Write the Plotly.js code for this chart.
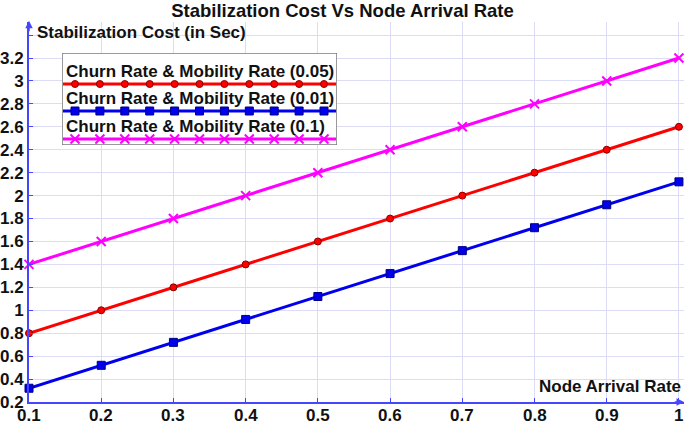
<!DOCTYPE html>
<html>
<head>
<meta charset="utf-8">
<script src="https://cdn.plot.ly/plotly-3.0.1.min.js"></script>
<style>
  html, body { margin: 0; padding: 0; background: #fff; }
  #chart { width: 685px; height: 426px; }
</style>
</head>
<body>
<div id="chart"></div>
<script>
// node arrival rate on x
const arrivalRate = [0.1, 0.2, 0.3, 0.4, 0.5, 0.6, 0.7, 0.8, 0.9, 1.0];

// stabilization cost per series
const cost005 = [0.8, 1.0, 1.2, 1.4, 1.6, 1.8, 2.0, 2.2, 2.4, 2.6];
const cost001 = [0.32, 0.52, 0.72, 0.92, 1.12, 1.32, 1.52, 1.72, 1.92, 2.12];
const cost01 = [1.4, 1.6, 1.8, 2.0, 2.2, 2.4, 2.6, 2.8, 3.0, 3.2];

const seriesNames = [
  'Churn Rate & Mobility Rate (0.05)',
  'Churn Rate & Mobility Rate (0.01)',
  'Churn Rate & Mobility Rate (0.1)'
];

const xTickVals = [0.1, 0.2, 0.3, 0.4, 0.5, 0.6, 0.7, 0.8, 0.9, 1.0];
const xTickText = ['0.1', '0.2', '0.3', '0.4', '0.5', '0.6', '0.7', '0.8', '0.9', '1'];
const yTickVals = [0.2, 0.4, 0.6, 0.8, 1.0, 1.2, 1.4, 1.6, 1.8, 2.0, 2.2, 2.4, 2.6, 2.8, 3.0, 3.2, 3.4];
const yTickText = ['0.2', '0.4', '0.6', '0.8', '1', '1.2', '1.4', '1.6', '1.8', '2', '2.2', '2.4', '2.6', '2.8', '3', '3.2', ''];

const FONT = 'Liberation Sans, Arial, sans-serif';
const AXIS = '#4646ff';
const GRID = '#dcdcf6';

const styles = [
  { color: '#ff0000', symbol: 'circle', size: 7, mline: { color: '#8a0000', width: 1 } },
  { color: '#0000ee', symbol: 'square', size: 8, mline: { color: '#000080', width: 1 } },
  { color: '#ff00ff', symbol: 'x-thin-open', size: 9, mline: { color: '#ff00ff', width: 2 } }
];
const seriesY = [cost005, cost001, cost01];

const traces = seriesY.map((ys, i) => ({
  type: 'scatter',
  mode: 'lines+markers',
  x: arrivalRate,
  y: ys,
  name: seriesNames[i],
  line: { color: styles[i].color, width: 3 },
  marker: { symbol: styles[i].symbol, size: styles[i].size, color: styles[i].color, line: styles[i].mline },
  cliponaxis: false,
  showlegend: false
}));

// hand-made legend, drawn on an overlay axis in pixel units
const legendRowY = [84, 111, 139];
const legendMarkX = [];
for (let k = 0; k < 11; k++) legendMarkX.push(75 + k * 24.9);
const legendShapes = [];
const legendNotes = [];
seriesNames.forEach((name, i) => {
  traces.push({
    type: 'scatter', mode: 'lines', xaxis: 'x2', yaxis: 'y2',
    x: [63, 336], y: [legendRowY[i], legendRowY[i]],
    line: { color: styles[i].color, width: 3 }, showlegend: false, hoverinfo: 'skip'
  });
  traces.push({
    type: 'scatter', mode: 'markers', xaxis: 'x2', yaxis: 'y2',
    x: legendMarkX, y: legendMarkX.map(() => legendRowY[i]),
    marker: { symbol: styles[i].symbol, size: styles[i].size, color: styles[i].color, line: styles[i].mline },
    showlegend: false, hoverinfo: 'skip'
  });
  legendNotes.push({
    xref: 'x2', yref: 'y2', x: 64, y: legendRowY[i] - 13, xanchor: 'left', yanchor: 'middle',
    text: name, showarrow: false,
    font: { family: FONT, size: 17, color: '#111', weight: 'bold' }
  });
});
legendShapes.push({
  type: 'rect', xref: 'x2', yref: 'y2', x0: 62, x1: 337, y0: 53, y1: 145,
  fillcolor: '#ffffff', line: { color: '#7a7a7a', width: 1.5 }, layer: 'below'
});

// x tick labels as annotations so they can sit a little closer to the axis
const xLabelNotes = xTickVals.map((v, i) => ({
  xref: 'x', yref: 'paper', x: v, y: 0, yanchor: 'middle', yshift: -13,
  text: xTickText[i], showarrow: false,
  font: { family: FONT, size: 17, color: '#111', weight: 'bold' }
}));

const layout = {
  width: 685,
  height: 426,
  margin: { l: 29, r: 1, t: 22, b: 24 },
  paper_bgcolor: '#ffffff',
  plot_bgcolor: '#ffffff',
  font: { family: FONT, color: '#111' },
  title: {
    text: 'Stabilization Cost Vs Node Arrival Rate',
    font: { family: FONT, size: 18.5, color: '#111', weight: 'bold' },
    x: 0.5, xref: 'container', xanchor: 'center', y: 1 - 11 / 426, yref: 'container', yanchor: 'middle'
  },
  xaxis: {
    range: [0.1, 1.007],
    tickvals: xTickVals,
    ticktext: xTickText,
    showticklabels: false,
    showgrid: true, gridcolor: GRID, gridwidth: 1,
    zeroline: false,
    showline: true, linecolor: AXIS, linewidth: 2,
    ticks: 'inside', ticklen: 4, tickcolor: AXIS, tickwidth: 1
  },
  yaxis: {
    range: [0.2, 3.514],
    tickvals: yTickVals,
    ticktext: yTickText,
    showgrid: true, gridcolor: GRID, gridwidth: 1,
    zeroline: false,
    showline: true, linecolor: AXIS, linewidth: 2,
    ticks: 'inside', ticklen: 4, tickcolor: AXIS, tickwidth: 1,
    tickfont: { family: FONT, size: 17, color: '#111', weight: 'bold' }
  },
  xaxis2: {
    domain: [(62 - 29) / 655, (337 - 29) / 655], range: [62, 337],
    anchor: 'y2', visible: false, showgrid: false, zeroline: false, fixedrange: true
  },
  yaxis2: {
    domain: [(402 - 145) / 380, (402 - 53) / 380], range: [145, 53],
    anchor: 'x2', visible: false, showgrid: false, zeroline: false, fixedrange: true
  },
  shapes: legendShapes,
  annotations: legendNotes.concat(xLabelNotes, [
    {
      xref: 'paper', yref: 'paper', x: (35 - 29) / 655, y: (402 - 33) / 380,
      xanchor: 'left', yanchor: 'middle', showarrow: false,
      text: 'Stabilization Cost (in Sec)',
      font: { family: FONT, size: 17, color: '#111', weight: 'bold' }
    },
    {
      xref: 'paper', yref: 'paper', x: 0.999, y: (402 - 386) / 380,
      xanchor: 'right', yanchor: 'middle', showarrow: false,
      text: 'Node Arrival Rate',
      font: { family: FONT, size: 17, color: '#111', weight: 'bold' }
    },
    // axis arrow heads
    {
      xref: 'paper', yref: 'paper', x: 1.002, y: 0, ax: -12, ay: 0, text: '',
      showarrow: true, arrowhead: 2, arrowsize: 1, arrowwidth: 1.5, arrowcolor: AXIS
    },
    {
      xref: 'paper', yref: 'paper', x: 0, y: 1.003, ax: 0, ay: 12, text: '',
      showarrow: true, arrowhead: 2, arrowsize: 1, arrowwidth: 1.5, arrowcolor: AXIS
    }
  ])
};

Plotly.newPlot('chart', traces, layout, { displayModeBar: false, staticPlot: true });
</script>
</body>
</html>
